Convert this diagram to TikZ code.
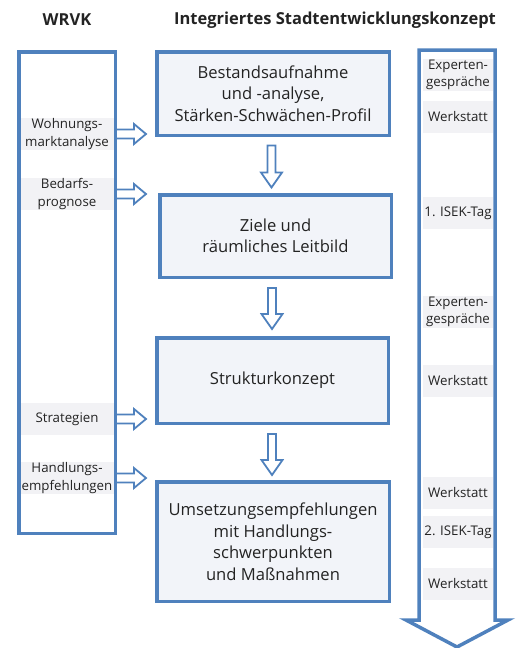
\documentclass[tikz,border=0pt]{standalone}
\usepackage{fontspec}
\setmainfont{Open Sans}
\usetikzlibrary{calc}
\definecolor{isekblau}{RGB}{79,129,189}
\definecolor{isekhell}{RGB}{242,244,249}
\definecolor{isekgrau}{RGB}{242,242,245}
\definecolor{isektext}{RGB}{35,35,35}
\begin{document}
\begin{tikzpicture}[x=1pt, y=-1pt,
	box/.style={shape=rectangle, draw=isekblau, line width=3.5pt, fill=isekhell, text=isektext, align=center, inner sep=0pt, font=\fontsize{16.6}{21.5}\selectfont},
	spalte/.style={shape=rectangle, draw=isekblau, line width=3.5pt, fill=white, inner sep=0pt},
	etikett/.style={shape=rectangle, fill=isekgrau, text=isektext, align=center, inner sep=0pt, minimum height=32pt, font=\fontsize{13.3}{17.5}\selectfont},
	hohl/.style={draw=isekblau, line width=1.8pt, fill=white, line join=miter},
	titel/.style={text=isektext, font=\bfseries\fontsize{16.5}{19}\selectfont}]
	\useasboundingbox (0,0) rectangle (516,648);
	% Ueberschriften
	\node (twrvk) at (67,20) [titel] {WRVK};
	\node (tisek) at (335,20) [titel] {Integriertes Stadtentwicklungskonzept};
	% linke Spalte WRVK
	\node (wrvk) at (67,292.5) [spalte, minimum width=96.5pt, minimum height=481.5pt] {};
	\node (wohn) at (67,134) [etikett, minimum width=93pt] {Wohnungs-\\marktanalyse};
	\node (bedarf) at (67,194) [etikett, minimum width=93pt] {Bedarfs-\\prognose};
	\node (strat) at (67,419) [etikett, minimum width=93pt] {Strategien};
	\node (handl) at (67,478) [etikett, minimum width=93pt] {Handlungs-\\empfehlungen};
	% rechte Spalte als grosser Pfeil
	\draw [isekblau, line width=3.5pt, fill=white, line join=miter] (419,50) -- (495,50) -- (495,620) -- (508,620) -- (457,647) -- (406,620) -- (419,620) -- cycle;
	\node (exp1) at (458,75) [etikett, minimum width=70pt] {Experten-\\gespräche};
	\node (werk1) at (458,117) [etikett, minimum width=70pt] {Werkstatt};
	\node (tag1) at (458,213) [etikett, minimum width=70pt] {1. ISEK-Tag};
	\node (exp2) at (458,312) [etikett, minimum width=70pt] {Experten-\\gespräche};
	\node (werk2) at (458,381) [etikett, minimum width=70pt] {Werkstatt};
	\node (werk3) at (458,493) [etikett, minimum width=70pt] {Werkstatt};
	\node (tag2) at (458,532) [etikett, minimum width=70pt] {2. ISEK-Tag};
	\node (werk4) at (458,584) [etikett, minimum width=70pt] {Werkstatt};
	% Hauptkaesten
	\node (bestand) at (273,93.5) [box, minimum width=232.5pt, minimum height=83.5pt] {Bestandsaufnahme\\und -analyse,\\Stärken-Schwächen-Profil};
	\node (ziele) at (275.5,236) [box, minimum width=231.5pt, minimum height=82.5pt] {Ziele und\\räumliches Leitbild};
	\node (struktur) at (272.5,380.5) [box, minimum width=231.5pt, minimum height=85.5pt] {Strukturkonzept};
	\node (umsetz) at (273,541.5) [box, minimum width=232.5pt, minimum height=119.5pt] {Umsetzungsempfehlungen\\mit Handlungs-\\schwerpunkten\\und Maßnahmen};
	% Pfeile nach unten
	\draw [hohl] ($(bestand.south)+(-5.5,8.5)$) -- ++(8,0) -- ++(0,27) -- ++(6.5,0) -- ++(-10.5,15) -- ++(-10.5,-15) -- ++(6.5,0) -- cycle;
	\draw [hohl] ($(ziele.south)+(-7.5,9)$) -- ++(8,0) -- ++(0,26) -- ++(6.5,0) -- ++(-10.5,15) -- ++(-10.5,-15) -- ++(6.5,0) -- cycle;
	\draw [hohl] ($(struktur.south)+(-4.5,9)$) -- ++(8,0) -- ++(0,26) -- ++(6.5,0) -- ++(-10.5,15) -- ++(-10.5,-15) -- ++(6.5,0) -- cycle;
	% Pfeile nach rechts
	\draw [hohl] ($(wrvk.east |- wohn.east)+(0,-4.5)$) -- ++(17,0) -- ++(0,-5.5) -- ++(12,10) -- ++(-12,10) -- ++(0,-5.5) -- ++(-17,0);
	\draw [hohl] ($(wrvk.east |- bedarf.east)+(0,-4.5)$) -- ++(17,0) -- ++(0,-5.5) -- ++(12,10) -- ++(-12,10) -- ++(0,-5.5) -- ++(-17,0);
	\draw [hohl] ($(wrvk.east |- strat.east)+(0,-4.5)$) -- ++(17,0) -- ++(0,-5.5) -- ++(12,10) -- ++(-12,10) -- ++(0,-5.5) -- ++(-17,0);
	\draw [hohl] ($(wrvk.east |- handl.east)+(0,-4.5)$) -- ++(17,0) -- ++(0,-5.5) -- ++(12,10) -- ++(-12,10) -- ++(0,-5.5) -- ++(-17,0);
\end{tikzpicture}
\end{document}
